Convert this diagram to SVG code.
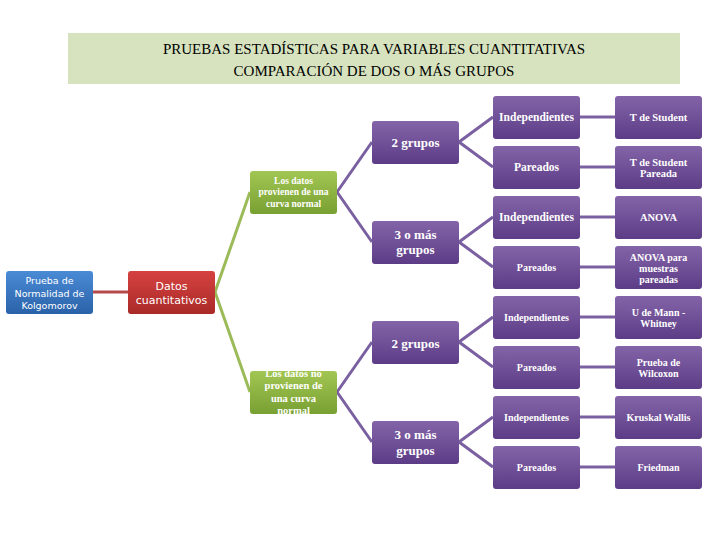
<svg xmlns="http://www.w3.org/2000/svg" width="720" height="540" viewBox="0 0 720 540">
<defs>
<linearGradient id="gp" x1="0" y1="0" x2="0" y2="1"><stop offset="0" stop-color="#8464a8"/><stop offset="1" stop-color="#5c3c86"/></linearGradient>
<linearGradient id="gg" x1="0" y1="0" x2="0" y2="1"><stop offset="0" stop-color="#a2c653"/><stop offset="1" stop-color="#78a032"/></linearGradient>
<linearGradient id="gr" x1="0" y1="0" x2="0" y2="1"><stop offset="0" stop-color="#d54240"/><stop offset="1" stop-color="#aa2a28"/></linearGradient>
<linearGradient id="gb" x1="0" y1="0" x2="0" y2="1"><stop offset="0" stop-color="#4a8bd6"/><stop offset="1" stop-color="#2a62a8"/></linearGradient>
<style>
.p{fill:url(#gp)}.g{fill:url(#gg)}
text{fill:#fff;text-anchor:middle;font-family:"Liberation Serif",serif;font-weight:bold}
.s{font-family:"DejaVu Sans",sans-serif;font-weight:normal}
.c line{stroke-width:3}
</style>
</defs>
<rect x="68" y="33" width="612" height="51" fill="#d7e3bf"/>
<text x="374" y="54" style="fill:#000;font-weight:normal;font-size:15px">PRUEBAS ESTADÍSTICAS PARA VARIABLES CUANTITATIVAS</text>
<text x="374" y="76" style="fill:#000;font-weight:normal;font-size:15px">COMPARACIÓN DE DOS O MÁS GRUPOS</text>
<g class="c">
<line x1="93" y1="292" x2="128" y2="292" stroke="#b54a4a"/>
<line x1="215" y1="292" x2="250" y2="192" stroke="#9bbb59"/>
<line x1="215" y1="292" x2="250" y2="392" stroke="#9bbb59"/>
<g stroke="#7a60a0">
<line x1="337" y1="192" x2="372" y2="142"/><line x1="337" y1="192" x2="372" y2="242"/>
<line x1="337" y1="392" x2="372" y2="342"/><line x1="337" y1="392" x2="372" y2="442"/>
<line x1="459" y1="142" x2="493" y2="117"/><line x1="459" y1="142" x2="493" y2="167"/>
<line x1="459" y1="242" x2="493" y2="217"/><line x1="459" y1="242" x2="493" y2="267"/>
<line x1="459" y1="342" x2="493" y2="317"/><line x1="459" y1="342" x2="493" y2="367"/>
<line x1="459" y1="442" x2="493" y2="417"/><line x1="459" y1="442" x2="493" y2="467"/>
<line x1="580" y1="117" x2="615" y2="117"/><line x1="580" y1="167" x2="615" y2="167"/>
<line x1="580" y1="217" x2="615" y2="217"/><line x1="580" y1="267" x2="615" y2="267"/>
<line x1="580" y1="317" x2="615" y2="317"/><line x1="580" y1="367" x2="615" y2="367"/>
<line x1="580" y1="417" x2="615" y2="417"/><line x1="580" y1="467" x2="615" y2="467"/>
</g>
</g>
<g id="kolg"><rect x="6" y="271" width="87" height="43" rx="3" fill="url(#gb)"/><text class="s" font-size="9.5"><tspan x="49.5" y="284">Prueba de</tspan><tspan x="49.5" y="296.5">Normalidad de</tspan><tspan x="49.5" y="309">Kolgomorov</tspan></text></g>
<g id="datos"><rect x="128" y="271" width="87" height="43" rx="3" fill="url(#gr)"/><text class="s" font-size="11"><tspan x="171.5" y="290">Datos</tspan><tspan x="171.5" y="304">cuantitativos</tspan></text></g>
<g id="normal"><rect class="g" x="250" y="171" width="87" height="43" rx="3"/><text font-size="9.5"><tspan x="293.5" y="184">Los datos</tspan><tspan x="293.5" y="195">provienen de una</tspan><tspan x="293.5" y="207">curva normal</tspan></text></g>
<g id="nonormal"><rect class="g" x="250" y="371" width="87" height="43" rx="3"/><text font-size="10.5"><tspan x="293.5" y="377">Los datos no</tspan><tspan x="293.5" y="389">provienen de</tspan><tspan x="293.5" y="402">una curva</tspan><tspan x="293.5" y="414">normal</tspan></text></g>
<g id="g2a"><rect class="p" x="372" y="121" width="87" height="43" rx="3"/><text font-size="13" x="415.5" y="147">2 grupos</text></g>
<g id="g3a"><rect class="p" x="372" y="221" width="87" height="43" rx="3"/><text font-size="13"><tspan x="415.5" y="239">3 o más</tspan><tspan x="415.5" y="254">grupos</tspan></text></g>
<g id="g2b"><rect class="p" x="372" y="321" width="87" height="43" rx="3"/><text font-size="13" x="415.5" y="348">2 grupos</text></g>
<g id="g3b"><rect class="p" x="372" y="421" width="87" height="43" rx="3"/><text font-size="13"><tspan x="415.5" y="439">3 o más</tspan><tspan x="415.5" y="455">grupos</tspan></text></g>
<g id="r1"><rect class="p" x="493" y="96" width="87" height="43" rx="3"/><text font-size="11.5" x="536.5" y="121">Independientes</text></g>
<g id="r2"><rect class="p" x="493" y="146" width="87" height="43" rx="3"/><text font-size="11.5" x="536.5" y="171">Pareados</text></g>
<g id="r3"><rect class="p" x="493" y="196" width="87" height="43" rx="3"/><text font-size="11.5" x="536.5" y="221">Independientes</text></g>
<g id="r4"><rect class="p" x="493" y="246" width="87" height="43" rx="3"/><text font-size="10" x="536.5" y="271">Pareados</text></g>
<g id="r5"><rect class="p" x="493" y="296" width="87" height="43" rx="3"/><text font-size="10" x="536.5" y="321">Independientes</text></g>
<g id="r6"><rect class="p" x="493" y="346" width="87" height="43" rx="3"/><text font-size="10" x="536.5" y="371">Pareados</text></g>
<g id="r7"><rect class="p" x="493" y="396" width="87" height="43" rx="3"/><text font-size="10" x="536.5" y="421">Independientes</text></g>
<g id="r8"><rect class="p" x="493" y="446" width="87" height="43" rx="3"/><text font-size="10" x="536.5" y="471">Pareados</text></g>
<g id="t1"><rect class="p" x="615" y="96" width="87" height="43" rx="3"/><text font-size="10.5" x="658.5" y="121">T de Student</text></g>
<g id="t2"><rect class="p" x="615" y="146" width="87" height="43" rx="3"/><text font-size="10.5"><tspan x="658.5" y="166">T de Student</tspan><tspan x="658.5" y="177">Pareada</tspan></text></g>
<g id="t3"><rect class="p" x="615" y="196" width="87" height="43" rx="3"/><text font-size="10.5" x="658.5" y="221">ANOVA</text></g>
<g id="t4"><rect class="p" x="615" y="246" width="87" height="43" rx="3"/><text font-size="10"><tspan x="658.5" y="261">ANOVA para</tspan><tspan x="658.5" y="272">muestras</tspan><tspan x="658.5" y="283">pareadas</tspan></text></g>
<g id="t5"><rect class="p" x="615" y="296" width="87" height="43" rx="3"/><text font-size="10"><tspan x="658.5" y="316">U de Mann -</tspan><tspan x="658.5" y="327">Whitney</tspan></text></g>
<g id="t6"><rect class="p" x="615" y="346" width="87" height="43" rx="3"/><text font-size="10"><tspan x="658.5" y="366">Prueba de</tspan><tspan x="658.5" y="377">Wilcoxon</tspan></text></g>
<g id="t7"><rect class="p" x="615" y="396" width="87" height="43" rx="3"/><text font-size="10" x="658.5" y="421">Kruskal Wallis</text></g>
<g id="t8"><rect class="p" x="615" y="446" width="87" height="43" rx="3"/><text font-size="10" x="658.5" y="471">Friedman</text></g>
</svg>
